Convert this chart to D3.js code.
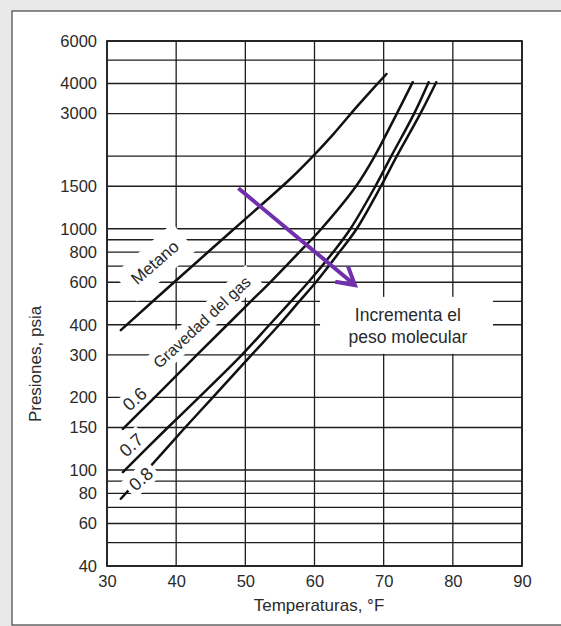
<!DOCTYPE html>
<html>
<head>
<meta charset="utf-8">
<script src="https://cdn.jsdelivr.net/npm/d3@7"></script>
<style>
  body { margin: 0; background: #e9e9e9; }
  svg { display: block; font-family: "Liberation Sans", Arial, sans-serif; }
</style>
</head>
<body>
<svg id="viz" width="561" height="626"></svg>
<script>
  // tick labels and grid positions
  let xTicks = [30, 40, 50, 60, 70, 80, 90];
  let yTickLabels = [40, 60, 80, 100, 150, 200, 300, 400, 600, 800, 1000, 1500, 3000, 4000, 6000];
  let yGrid = [40, 50, 60, 70, 80, 90, 100, 150, 200, 300, 400, 500, 600, 700, 800, 900, 1000, 1500, 2000, 3000, 4000, 5000, 6000];

  // curves: [temperature F, pressure psia]
  let metano = [[32, 380], [39.7, 600], [48.4, 1000], [56.4, 1600], [60, 2030], [62.8, 2480], [66.1, 3200], [68.5, 3820], [70.4, 4380]];
  let grav06 = [[32.3, 148], [36.9, 200], [43, 300], [47.4, 400], [50.8, 500], [53.6, 600], [57.8, 800], [61, 1000], [66, 1500], [68.7, 2000], [71.9, 3000], [74.2, 4050]];
  let grav07 = [[32.3, 98], [38.8, 150], [43.3, 200], [49.5, 300], [53.5, 400], [56.6, 500], [59.1, 600], [62.7, 800], [65.2, 1000], [68.8, 1500], [71.1, 2000], [74.4, 3000], [76.5, 4050]];
  let grav08 = [[32, 76], [35.8, 100], [41.3, 150], [45.3, 200], [50.9, 300], [54.9, 400], [57.8, 500], [60.2, 600], [63.6, 800], [66.1, 1000], [69.6, 1500], [71.9, 2000], [75.3, 3000], [77.6, 4050]];

  // curve labels: text, T, P, angle
  let curveLabels = [
    { text: "Metano", t: 36.9, p: 725, angle: -41, w: 78, h: 36, size: 17 },
    { text: "Gravedad del gas", t: 43.7, p: 410, angle: -43, w: 142, h: 24, size: 16 },
    { text: "0.6", t: 34, p: 197, angle: -42, w: 32, h: 22, size: 18 },
    { text: "0.7", t: 33.5, p: 127, angle: -42, w: 32, h: 22, size: 18 }
  ];
  let label08 = { text: "0.8", t: 34.9, p: 91.8, angle: -42, w: 34, h: 22, size: 18 };

  // arrow "incrementa el peso molecular"
  let arrowFrom = [49.0, 1471];
  let arrowTo = [65.85, 584];
  let noteLines = ["Incrementa el", "peso molecular"];
  let noteBox = { t0: 60.8, t1: 85.8, p0: 522, p1: 303, tc: 73.5, lineP: [415, 336] };

  let plotLeft = 107, plotRight = 522, plotTop = 41, plotBottom = 566;

  let svg = d3.select("#viz");

  let xScale = d3.scaleLinear().domain([30, 90]).range([plotLeft, plotRight]);
  let yScale = d3.scaleLog().domain([40, 6000]).range([plotBottom, plotTop]);

  // outer frame
  svg.append("rect").attr("x", 12).attr("y", 11).attr("width", 560).attr("height", 614)
    .attr("fill", "#fff").attr("stroke", "#444").attr("stroke-width", 1.2);

  // grid
  let grid = svg.append("g").attr("stroke", "#1e1e1e").attr("stroke-width", 1.3);
  grid.selectAll("line.h").data(yGrid).enter().append("line")
    .attr("x1", plotLeft).attr("x2", plotRight)
    .attr("y1", d => yScale(d)).attr("y2", d => yScale(d));
  grid.selectAll("line.v").data(xTicks).enter().append("line")
    .attr("y1", plotTop).attr("y2", plotBottom)
    .attr("x1", d => xScale(d)).attr("x2", d => xScale(d));
  // frame of the plot, a bit heavier
  svg.append("rect").attr("x", plotLeft).attr("y", plotTop)
    .attr("width", plotRight - plotLeft).attr("height", plotBottom - plotTop)
    .attr("fill", "none").attr("stroke", "#1e1e1e").attr("stroke-width", 1.7);

  // white boxes behind labels
  function labelBox(g, d) {
    g.append("rect")
      .attr("transform", `translate(${xScale(d.t)},${yScale(d.p)}) rotate(${d.angle})`)
      .attr("x", -d.w / 2).attr("y", -d.h / 2).attr("width", d.w).attr("height", d.h)
      .attr("fill", "#fff");
  }
  let boxes = svg.append("g");
  curveLabels.forEach(d => labelBox(boxes, d));

  // note box
  svg.append("rect")
    .attr("x", xScale(noteBox.t0)).attr("y", yScale(noteBox.p0))
    .attr("width", xScale(noteBox.t1) - xScale(noteBox.t0))
    .attr("height", yScale(noteBox.p1) - yScale(noteBox.p0))
    .attr("fill", "#fff");

  // curves
  let line = d3.line()
    .x(d => xScale(d[0]))
    .y(d => yScale(d[1]))
    .curve(d3.curveCatmullRom.alpha(0.5));

  svg.selectAll("path.curve").data([metano, grav06, grav07, grav08]).enter()
    .append("path")
    .attr("d", line)
    .attr("fill", "none")
    .attr("stroke", "#111")
    .attr("stroke-width", 2.5)
    .attr("stroke-linecap", "round");

  // label texts
  function labelText(g, d) {
    g.append("text")
      .attr("transform", `translate(${xScale(d.t)},${yScale(d.p)}) rotate(${d.angle})`)
      .attr("text-anchor", "middle")
      .attr("dy", "0.35em")
      .attr("font-size", d.size)
      .attr("fill", "#2a2a2a")
      .text(d.text);
  }
  let texts = svg.append("g");
  curveLabels.forEach(d => labelText(texts, d));
  labelBox(texts, label08);
  labelText(texts, label08);

  // note text
  svg.append("g").selectAll("text").data(noteLines).enter().append("text")
    .attr("x", xScale(noteBox.tc))
    .attr("y", (d, i) => yScale(noteBox.lineP[i]))
    .attr("text-anchor", "middle")
    .attr("font-size", 17.5)
    .attr("fill", "#2a2a2a")
    .text(d => d);

  // purple arrow
  let ax0 = xScale(arrowFrom[0]), ay0 = yScale(arrowFrom[1]);
  let ax1 = xScale(arrowTo[0]), ay1 = yScale(arrowTo[1]);
  let ang = Math.atan2(ay1 - ay0, ax1 - ax0);
  let barb = 20, spread = Math.PI / 6;
  let arrow = svg.append("g").attr("stroke", "#7030ad").attr("stroke-width", 4)
    .attr("fill", "none").attr("stroke-linecap", "butt");
  arrow.append("line").attr("x1", ax0).attr("y1", ay0)
    .attr("x2", ax1 - 2 * Math.cos(ang)).attr("y2", ay1 - 2 * Math.sin(ang));
  arrow.append("path")
    .attr("stroke-linejoin", "miter")
    .attr("d", `M${ax1 - barb * Math.cos(ang - spread)},${ay1 - barb * Math.sin(ang - spread)}` +
      `L${ax1},${ay1}` +
      `L${ax1 - barb * Math.cos(ang + spread)},${ay1 - barb * Math.sin(ang + spread)}`);

  // axes (labels only, grid is drawn separately)
  let yAxis = svg.append("g").attr("transform", `translate(${plotLeft},0)`)
    .call(d3.axisLeft(yScale).tickValues(yTickLabels).tickSize(0).tickPadding(10).tickFormat(d3.format("d")));
  let xAxis = svg.append("g").attr("transform", `translate(0,${plotBottom})`)
    .call(d3.axisBottom(xScale).tickValues(xTicks).tickSize(0).tickPadding(9).tickFormat(d3.format("d")));
  [xAxis, yAxis].forEach(a => {
    a.select(".domain").remove();
    a.selectAll("text").attr("font-size", 16.5).attr("fill", "#2a2a2a")
      .attr("font-family", "Liberation Sans, Arial, sans-serif");
  });

  svg.append("text")
    .attr("x", 319).attr("y", 611)
    .attr("text-anchor", "middle")
    .attr("font-size", 17)
    .attr("fill", "#2a2a2a")
    .text("Temperaturas, °F");

  svg.append("text")
    .attr("transform", "translate(41,364) rotate(-90)")
    .attr("text-anchor", "middle")
    .attr("font-size", 17)
    .attr("fill", "#2a2a2a")
    .text("Presiones, psia");
</script>
</body>
</html>
